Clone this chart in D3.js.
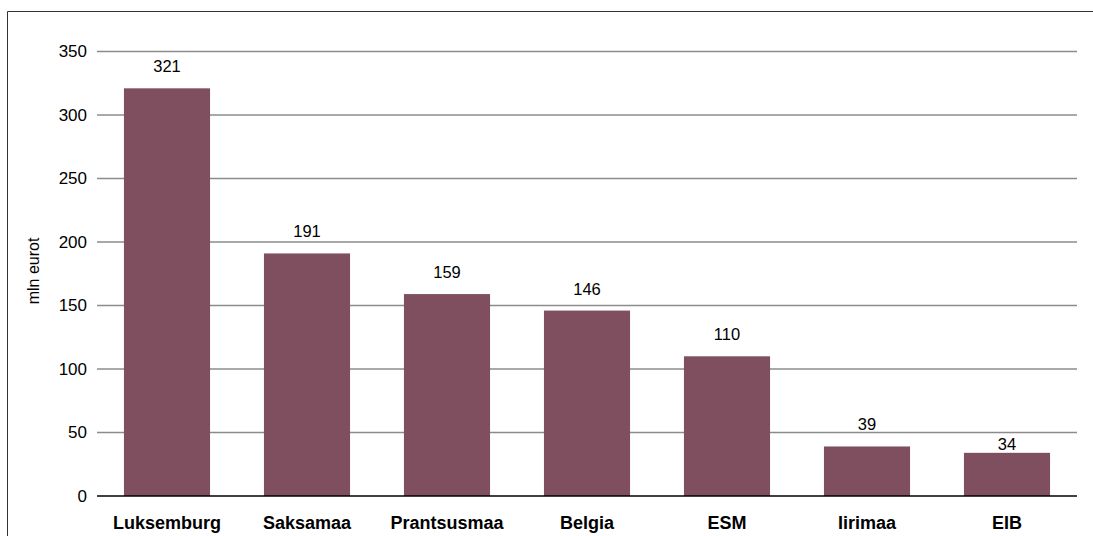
<!DOCTYPE html>
<html><head><meta charset="utf-8">
<script src="https://cdn.jsdelivr.net/npm/d3@7"></script>
<style>
html,body{margin:0;padding:0;background:#fff;}
svg{display:block;}
text{font-family:"Liberation Sans",Arial,Helvetica,sans-serif;fill:#000;}
</style></head>
<body>
<svg id="chart" width="1093" height="536"></svg>
<script>
const categories = ["Luksemburg","Saksamaa","Prantsusmaa","Belgia","ESM","Iirimaa","EIB"];
const values = [321,191,159,146,110,39,34];
const yTicks = [0,50,100,150,200,250,300,350];
const yTitle = "mln eurot";

const W = 1093, H = 536;
const m = {left:97, right:1077, top:51.5, bottom:496};
const svg = d3.select("#chart");

// frame
svg.append("path").attr("d", `M7.5,${H+2} L7.5,11.5 L${W+2},11.5`)
  .attr("fill","none").attr("stroke","#333").attr("stroke-width",1);

const x = d3.scaleBand().domain(categories).range([m.left, m.right]).paddingInner(0.385).paddingOuter(0.1925);
const y = d3.scaleLinear().domain([0,350]).range([m.bottom, m.top]);

// grid
const yAxis = d3.axisLeft(y).tickValues(yTicks).tickSize(0).tickPadding(10).tickFormat(d3.format("d"));
const gy = svg.append("g").attr("transform",`translate(${m.left},0)`).call(yAxis);
gy.select(".domain").remove();
gy.selectAll(".tick text").attr("font-size",17).attr("font-family","Liberation Sans, Arial, sans-serif").attr("fill","#000");
svg.append("g").selectAll("line").data(yTicks.filter(d=>d>0)).join("line")
  .attr("x1",m.left).attr("x2",m.right).attr("y1",d=>y(d)).attr("y2",d=>y(d))
  .attr("stroke","#8c8c8c").attr("stroke-width",1.6);

// bars
svg.append("g").selectAll("rect").data(values).join("rect")
  .attr("x",(d,i)=>x(categories[i])).attr("width",x.bandwidth())
  .attr("y",d=>y(d)).attr("height",d=>y(0)-y(d)).attr("fill","#7f4e5f");

// value labels (avoid crossing a gridline)
svg.append("g").selectAll("text").data(values).join("text")
  .attr("x",(d,i)=>x(categories[i])+x.bandwidth()/2)
  .attr("y",d=>{
    let b = y(d)-16;
    const hit = yTicks.some(t=>t>0 && y(t)>b-12 && y(t)<b+1);
    if (hit) b = y(d)-3;
    return b;
  })
  .attr("text-anchor","middle").attr("font-size",16.5).text(d=>d);

// x axis
const xAxis = d3.axisBottom(x).tickSize(0).tickPadding(20);
const gx = svg.append("g").attr("transform",`translate(0,${m.bottom})`).call(xAxis);
gx.select(".domain").remove();
gx.selectAll(".tick text").attr("font-size",18).attr("font-weight","bold").attr("font-family","Liberation Sans, Arial, sans-serif").attr("fill","#000");
svg.append("line").attr("x1",m.left).attr("x2",m.right).attr("y1",y(0)).attr("y2",y(0))
  .attr("stroke","#000").attr("stroke-width",1.6);

// y title
svg.append("text").attr("transform",`translate(39,271) rotate(-90)`)
  .attr("text-anchor","middle").attr("font-size",16).text(yTitle);
</script>
</body></html>
